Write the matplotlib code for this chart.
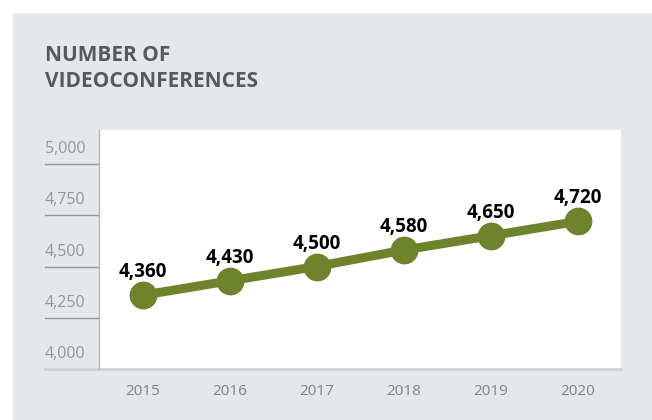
import matplotlib
matplotlib.use("Agg")
import matplotlib.pyplot as plt
from matplotlib.patches import Rectangle
from matplotlib.transforms import blended_transform_factory

plt.rcParams['font.family'] = ['Open Sans', 'DejaVu Sans']

years = ['2015', '2016', '2017', '2018', '2019', '2020']
counts = [4360, 4430, 4500, 4580, 4650, 4720]
yticks = [4000, 4250, 4500, 4750, 5000]
ytick_labels = ['4,000', '4,250', '4,500', '4,750', '5,000']

W, H = 652, 420
green = '#6e832c'
bg = '#e6e7e8'

fig = plt.figure(figsize=(W / 100, H / 100), dpi=100)
fig.patch.set_facecolor('white')
fig.patches.append(Rectangle((13 / W, 0), 1, 1 - 13 / H, transform=fig.transFigure,
                             facecolor=bg, edgecolor='none', zorder=-10))

# title, two lines (baseline of last line at ~87px)
fig.text(45 / W, 1 - 87 / H, 'NUMBER OF\nVIDEOCONFERENCES', fontsize=15, fontweight='bold',
         color='#58595b', va='baseline', ha='left', linespacing=1.3)

ax = fig.add_axes([99 / W, 1 - 369 / H, (621 - 99) / W, (369 - 130) / H])
ax.set_facecolor('white')
x = list(range(len(years)))
ax.plot(x, counts, color=green, lw=6.5, marker='o', markersize=19, solid_capstyle='round', zorder=3)
for xi, v in zip(x, counts):
    ax.annotate(f'{v:,}', (xi, v), xytext=(0, 18), textcoords='offset pixels',
                ha='center', va='baseline', fontsize=13.5, fontweight='bold', color='black')

ax.set_xlim(-0.5, len(years) - 0.5)
ax.set_ylim(4000, 5166)
ax.set_xticks(x)
ax.set_xticklabels(years)
ax.set_yticks([])
ax.tick_params(axis='x', length=0, pad=11, labelsize=11, labelcolor='#808285')
for s in ['top', 'right', 'bottom']:
    ax.spines[s].set_visible(False)
ax.spines['left'].set_color('#b5b6b8')
ax.spines['left'].set_linewidth(1)

# y labels sit above short rules on the left
tr = blended_transform_factory(fig.transFigure, ax.transData)
for v, lab in zip(yticks, ytick_labels):
    if v == 4000:
        ax.plot([45 / W, 621 / W], [v, v], transform=tr, color='#cfd0d2', lw=2, clip_on=False)
    else:
        ax.plot([45 / W, 98 / W], [v, v], transform=tr, color='#939598', lw=1, clip_on=False)
    ax.annotate(lab, (45 / W, v), xycoords=tr, xytext=(0, 7), textcoords='offset pixels',
                ha='left', va='bottom', fontsize=11.5, color='#939598', annotation_clip=False)

fig.savefig('out.png', dpi=100)
